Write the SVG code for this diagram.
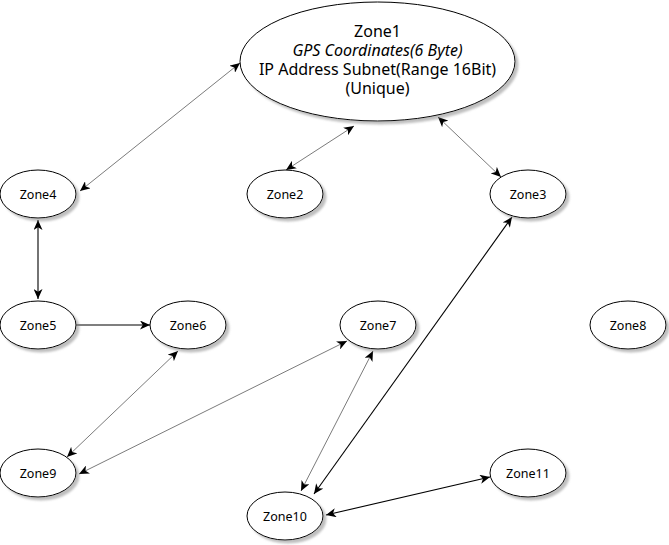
<svg xmlns="http://www.w3.org/2000/svg" width="669" height="545" viewBox="0 0 669 545">
  <style>
    .node { fill: #ffffff; stroke: #000000; stroke-width: 1; filter: url(#shadow); }
    .label { font-family: "Noto Sans", "Open Sans", sans-serif; font-size: 12.5px; fill: #000; text-anchor: middle; }
    .big { font-family: "Noto Sans", "Open Sans", sans-serif; font-size: 16px; fill: #000; text-anchor: middle; }
    .thin { stroke: #333; stroke-width: 0.65; fill: none; }
    .bold { stroke: #000; stroke-width: 1.1; fill: none; }
  </style>
  <defs>
    <!-- soft drop shadow under each ellipse -->
    <filter id="shadow" x="-20%" y="-20%" width="150%" height="150%">
      <feGaussianBlur in="SourceAlpha" stdDeviation="1"/>
      <feOffset dx="2.5" dy="3" result="off"/>
      <feFlood flood-color="#808080" flood-opacity="0.5"/>
      <feComposite in2="off" operator="in" result="sh"/>
      <feMerge>
        <feMergeNode in="sh"/>
        <feMergeNode in="SourceGraphic"/>
      </feMerge>
    </filter>
    <!-- classic notched arrowhead, used at both ends of bidirectional links -->
    <marker id="arrow" markerUnits="userSpaceOnUse" markerWidth="11" markerHeight="9" refX="10" refY="4.5" orient="auto-start-reverse" viewBox="0 0 11 9">
      <path d="M0,0 L10,4.5 L0,9 L2.8,4.5 Z" fill="#000"/>
    </marker>
  </defs>

  <g id="connectors">
    <line class="thin" x1="80" y1="191" x2="240" y2="63" marker-start="url(#arrow)" marker-end="url(#arrow)"/>
    <line class="thin" x1="286" y1="170" x2="354" y2="126" marker-start="url(#arrow)" marker-end="url(#arrow)"/>
    <line class="thin" x1="438" y1="117" x2="501" y2="177" marker-start="url(#arrow)" marker-end="url(#arrow)"/>
    <line class="bold" x1="38" y1="220" x2="38" y2="299" marker-start="url(#arrow)" marker-end="url(#arrow)"/>
    <line class="bold" x1="76" y1="325" x2="150" y2="325" marker-end="url(#arrow)"/>
    <line class="thin" x1="178" y1="351" x2="67" y2="457" marker-start="url(#arrow)" marker-end="url(#arrow)"/>
    <line class="thin" x1="347" y1="341" x2="79" y2="474" marker-start="url(#arrow)" marker-end="url(#arrow)"/>
    <line class="thin" x1="373" y1="351" x2="301" y2="491" marker-start="url(#arrow)" marker-end="url(#arrow)"/>
    <line class="bold" x1="512" y1="217" x2="314" y2="494" marker-start="url(#arrow)" marker-end="url(#arrow)"/>
    <line class="bold" x1="326" y1="515" x2="490" y2="477" marker-start="url(#arrow)" marker-end="url(#arrow)"/>
  </g>

  <g id="zone1">
    <ellipse class="node" cx="377.5" cy="61.5" rx="137.5" ry="59.5"/>
    <text class="big" x="377.5" y="36.5">Zone1</text>
    <text class="big" x="377.5" y="55.5" font-style="italic">GPS Coordinates(6 Byte)</text>
    <text class="big" x="377.5" y="74.5">IP Address Subnet(Range 16Bit)</text>
    <text class="big" x="377.5" y="93.5">(Unique)</text>
  </g>
  <g id="zone2">
    <ellipse class="node" cx="285" cy="194" rx="38" ry="24"/>
    <text class="label" x="285" y="198.5">Zone2</text>
  </g>
  <g id="zone3">
    <ellipse class="node" cx="528" cy="194" rx="38" ry="24"/>
    <text class="label" x="528" y="198.5">Zone3</text>
  </g>
  <g id="zone4">
    <ellipse class="node" cx="38" cy="194" rx="38" ry="24"/>
    <text class="label" x="38" y="198.5">Zone4</text>
  </g>
  <g id="zone5">
    <ellipse class="node" cx="38" cy="325" rx="38" ry="24"/>
    <text class="label" x="38" y="329.5">Zone5</text>
  </g>
  <g id="zone6">
    <ellipse class="node" cx="188" cy="325" rx="38" ry="24"/>
    <text class="label" x="188" y="329.5">Zone6</text>
  </g>
  <g id="zone7">
    <ellipse class="node" cx="378" cy="325" rx="38" ry="24"/>
    <text class="label" x="378" y="329.5">Zone7</text>
  </g>
  <g id="zone8">
    <ellipse class="node" cx="628" cy="325" rx="38" ry="24"/>
    <text class="label" x="628" y="329.5">Zone8</text>
  </g>
  <g id="zone9">
    <ellipse class="node" cx="38" cy="473" rx="38" ry="24"/>
    <text class="label" x="38" y="477.5">Zone9</text>
  </g>
  <g id="zone10">
    <ellipse class="node" cx="285" cy="516" rx="38" ry="24"/>
    <text class="label" x="285" y="520.5">Zone10</text>
  </g>
  <g id="zone11">
    <ellipse class="node" cx="528" cy="473" rx="38" ry="24"/>
    <text class="label" x="528" y="477.5">Zone11</text>
  </g>
</svg>
